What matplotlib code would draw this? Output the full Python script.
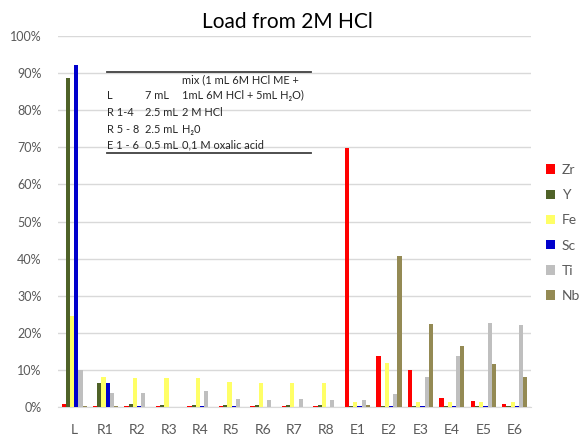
# ==========================================
# LOAD FROM 2M HCL - GRAFICO DE BARRAS
# ==========================================

import numpy as np
import matplotlib
matplotlib.use("Agg")
import matplotlib.pyplot as plt
from matplotlib.ticker import PercentFormatter


# ==========================================
# DADOS (em %)
# ==========================================

categorias = ["L", "R1", "R2", "R3", "R4", "R5", "R6", "R7", "R8",
              "E1", "E2", "E3", "E4", "E5", "E6"]

zr = [0.7, 0.2, 0.3, 0.2, 0.3, 0.2, 0.2, 0.2, 0.2, 69.8, 13.8, 9.9, 2.3, 1.7, 0.7]
y_ = [88.7, 6.5, 0.8, 0.6, 0.5, 0.6, 0.6, 0.5, 0.5, 0.3, 0.2, 0.2, 0.2, 0.2, 0.2]
fe = [24.5, 8.2, 7.7, 7.9, 7.7, 6.8, 6.5, 6.4, 6.5, 1.4, 11.8, 1.4, 1.4, 1.4, 1.3]
sc = [92.2, 6.5, 0.2, 0.0, 0.2, 0.2, 0.1, 0.1, 0.1, 0.3, 0.3, 0.3, 0.3, 0.3, 0.3]
ti = [10.0, 3.9, 3.9, 0.0, 4.3, 2.1, 1.9, 2.2, 1.8, 1.8, 3.4, 8.0, 13.7, 22.6, 22.1]
nb = [0.2, 0.2, 0.1, 0.0, 0.1, 0.1, 0.1, 0.1, 0.1, 0.5, 40.8, 22.3, 16.4, 11.5, 8.2]

series = ["Zr", "Y", "Fe", "Sc", "Ti", "Nb"]
valores = [zr, y_, fe, sc, ti, nb]
cores = ["#FF0000", "#4F6228", "#FFFF66", "#0000CC", "#BFBFBF", "#948A54"]

# tabela de texto (inset)
tabela = [
    ["", "", "mix (1 mL 6M HCl ME +"],
    ["L", "7 mL", "1mL 6M HCl + 5mL H\u2082O)"],
    ["R 1-4", "2.5 mL", "2 M HCl"],
    ["R 5 - 8", "2.5 mL", "H\u20820"],
    ["E 1 - 6", "0.5 mL", "0,1 M oxalic acid"],
]


# ==========================================
# FIGURA
# ==========================================

plt.rcParams["font.family"] = ["Lato", "DejaVu Sans"]

fig = plt.figure(figsize=(5.82, 4.37), dpi=100)
ax = fig.add_axes([0.1003, 0.0686, 0.8114, 0.849])

x = np.arange(len(categorias))
largura = 0.8 / 6

barras = []
for i, (nome, vals, cor) in enumerate(zip(series, valores, cores)):
    b = ax.bar(x + (i - 2.5) * largura, vals, largura,
               color=cor, label=nome, zorder=3)
    barras.append(b)

# eixos
ax.set_xlim(-0.5, len(categorias) - 0.5)
ax.set_ylim(0, 100)
ax.set_yticks(np.arange(0, 101, 10))
ax.yaxis.set_major_formatter(PercentFormatter(100, decimals=0))
ax.set_xticks(x)
ax.set_xticklabels(categorias)

ax.grid(axis="y", color="#D9D9D9", linewidth=1.0, zorder=0)
for lado in ["top", "right", "left"]:
    ax.spines[lado].set_visible(False)
ax.spines["bottom"].set_color("#D9D9D9")
ax.tick_params(axis="both", length=0, colors="#595959")
ax.tick_params(axis="y", pad=12, labelsize=9)
ax.tick_params(axis="x", pad=12, labelsize=10)

# titulo
fig.text(287 / 582, 1 - 22 / 437, "Load from 2M HCl",
         ha="center", va="center", fontsize=15, color="black")


# ==========================================
# TABELA DENTRO DO GRAFICO
# ==========================================

# colunas em pixels da figura, convertidas para fracao do eixo
col_px = [107, 145, 182]
col_x = [(c - 58.4) / 472.2 for c in col_px]
linhas_y = [80, 95, 112, 129, 145]
for linha, yp in zip(tabela, linhas_y):
    yf = (407 - yp) / 371
    for txt, xc in zip(linha, col_x):
        ax.text(xc, yf, txt, transform=ax.transAxes, ha="left",
                va="center", fontsize=7.9, color="#262626", zorder=5)

for yp in [72, 153]:
    yf = (407 - yp) / 371
    ax.plot([col_x[0], 0.535], [yf, yf], transform=ax.transAxes,
            color="#404040", linewidth=1.3, zorder=5)


# ==========================================
# LEGENDA
# ==========================================

leg = fig.legend(handles=barras, labels=series, loc="upper left",
                 bbox_to_anchor=(546 / 582, 1 - 164 / 437),
                 frameon=False, fontsize=10, handlelength=0.65,
                 handleheight=0.65, handletextpad=0.5, labelspacing=0.95,
                 borderaxespad=0, borderpad=0)
for t in leg.get_texts():
    t.set_color("#595959")

fig.savefig("out.png", dpi=100)
